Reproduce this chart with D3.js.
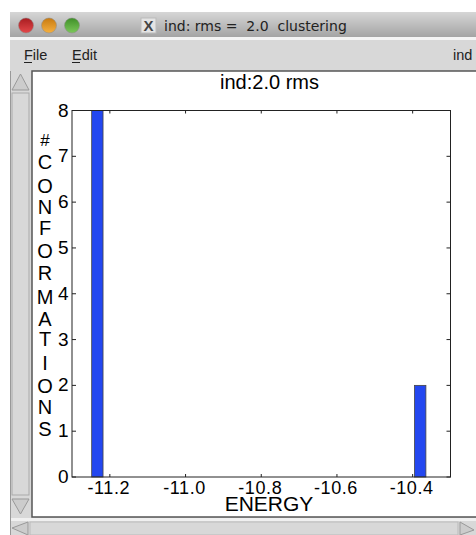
<!DOCTYPE html>
<html>
<head>
<meta charset="utf-8">
<title>ind: rms = 2.0 clustering</title>
<style>
  html, body { margin: 0; padding: 0; background: #fff; overflow: hidden; }
  svg { display: block; }
  text { font-family: "Liberation Sans", sans-serif; fill: #000; }
</style>
</head>
<body>
<script src="https://cdn.jsdelivr.net/npm/d3@7"></script>
<script>
const binCenters = [-11.233, -10.38];
const binCounts = [8, 2];
const binWidth = 0.03;
const xTicks = [-11.2, -11.0, -10.8, -10.6, -10.4];
const yTicks = [0, 1, 2, 3, 4, 5, 6, 7, 8];
const yLabel = ["#", "C", "O", "N", "F", "O", "R", "M", "A", "T", "I", "O", "N", "S"];
const yLabelPos = [146, 169, 193, 214, 235, 258, 280, 304, 326, 346, 370, 393, 414, 436];
const trafficLights = [["#e4484a", "#a81c20", 26], ["#f5b040", "#c87a10", 49], ["#7cc85a", "#3f8f28", 72]];

const width = 476, height = 535;
const svg = d3.select("body").append("svg").attr("width", width).attr("height", height);

const defs = svg.append("defs");
const grad = defs.append("linearGradient").attr("id", "titlebar").attr("x2", 0).attr("y2", 1);
grad.append("stop").attr("offset", 0).attr("stop-color", "#d6d6d6");
grad.append("stop").attr("offset", 1).attr("stop-color", "#a4a4a4");
trafficLights.forEach((d, i) => {
  const g = defs.append("linearGradient").attr("id", "light" + i).attr("x2", 0).attr("y2", 1);
  g.append("stop").attr("offset", 0).attr("stop-color", d[1]);
  g.append("stop").attr("offset", 1).attr("stop-color", d[0]);
});

// window chrome
svg.append("rect").attr("x", 10).attr("y", 12).attr("width", 466).attr("height", 25).attr("fill", "url(#titlebar)");
svg.append("rect").attr("x", 10).attr("y", 37).attr("width", 466).attr("height", 3).attr("fill", "#f4f4f4");
svg.append("rect").attr("x", 10).attr("y", 40).attr("width", 466).attr("height", 495).attr("fill", "#d8d8d8");

svg.selectAll("circle.light").data(trafficLights).enter().append("circle")
  .attr("class", "light")
  .attr("cx", d => d[2]).attr("cy", 25.5).attr("r", 7.5)
  .attr("fill", (d, i) => "url(#light" + i + ")").attr("stroke", "#8a8a8a").attr("stroke-width", 0.5);

svg.append("rect").attr("x", 141).attr("y", 18).attr("width", 15).attr("height", 15).attr("fill", "#e4e4e4").attr("stroke", "#bbb");
svg.append("text").attr("x", 148.5).attr("y", 31).attr("text-anchor", "middle")
  .style("font-size", "15px").style("font-weight", "bold").style("fill", "#444").text("X");
svg.append("text").attr("x", 164).attr("y", 31).style("font-family", "'DejaVu Sans', sans-serif")
  .style("font-size", "14px").style("fill", "#222").attr("xml:space", "preserve").text("ind: rms =  2.0  clustering");

svg.append("text").attr("x", 24).attr("y", 60).style("font-size", "14.5px").style("fill", "#222").text("File");
svg.append("text").attr("x", 72).attr("y", 60).style("font-size", "14.5px").style("fill", "#222").text("Edit");
svg.append("rect").attr("x", 24).attr("y", 62).attr("width", 8).attr("height", 1).attr("fill", "#222");
svg.append("rect").attr("x", 72).attr("y", 62).attr("width", 8).attr("height", 1).attr("fill", "#222");
svg.append("text").attr("x", 453).attr("y", 60).style("font-size", "14.5px").style("fill", "#222").text("ind");

// canvas and scrollbars
svg.append("rect").attr("x", 32).attr("y", 71).attr("width", 446).attr("height", 446)
  .attr("fill", "#fff").attr("stroke", "#555").attr("stroke-width", 1.5);
svg.append("rect").attr("x", 10).attr("y", 71).attr("width", 21).attr("height", 450).attr("fill", "#d8d8d8");
svg.append("rect").attr("x", 10).attr("y", 518).attr("width", 466).attr("height", 3).attr("fill", "#f0f0f0");
svg.append("line").attr("x1", 10.5).attr("x2", 10.5).attr("y1", 71).attr("y2", 535).attr("stroke", "#999");
svg.append("rect").attr("x", 12).attr("y", 93).attr("width", 17).attr("height", 402).attr("fill", "#d8d8d8").attr("stroke", "#aaa");
svg.append("path").attr("d", "M12 90 L20.5 74 L29 90 Z").attr("fill", "#ccc").attr("stroke", "#999");
svg.append("path").attr("d", "M12 499 L20.5 514 L29 499 Z").attr("fill", "#ccc").attr("stroke", "#999");
svg.append("rect").attr("x", 30).attr("y", 522).attr("width", 428).attr("height", 13).attr("fill", "#d8d8d8").attr("stroke", "#bbb");
svg.append("path").attr("d", "M28 522 L12 528 L28 535 Z").attr("fill", "#ccc").attr("stroke", "#999");
svg.append("path").attr("d", "M460 522 L474 530 L460 535 Z").attr("fill", "#ccc").attr("stroke", "#999");

// plot
const x = d3.scaleLinear().domain([-11.3, -10.3]).range([72, 450.5]);
const y = d3.scaleLinear().domain([0, 8]).range([477, 110.5]);
const bars = binCenters.map((c, i) => ({ c, n: binCounts[i] }));

svg.selectAll("rect.bar").data(bars).enter().append("rect")
  .attr("class", "bar")
  .attr("x", d => x(d.c - binWidth / 2))
  .attr("width", d => x(d.c + binWidth / 2) - x(d.c - binWidth / 2))
  .attr("y", d => y(d.n))
  .attr("height", d => y(0) - y(d.n))
  .attr("fill", "#2347f0").attr("stroke", "#444").attr("stroke-width", 0.8);

svg.append("rect").attr("x", x.range()[0]).attr("y", y.range()[1])
  .attr("width", x.range()[1] - x.range()[0]).attr("height", y.range()[0] - y.range()[1])
  .attr("fill", "none").attr("stroke", "#222").attr("stroke-width", 1);

const xTickLen = 3, yTickLen = 4;
svg.selectAll("line.xb").data(xTicks).enter().append("line").attr("class", "xb")
  .attr("x1", d => x(d)).attr("x2", d => x(d)).attr("y1", y(0)).attr("y2", y(0) - xTickLen).attr("stroke", "#222");
svg.selectAll("line.xt").data(xTicks).enter().append("line").attr("class", "xt")
  .attr("x1", d => x(d)).attr("x2", d => x(d)).attr("y1", y(8)).attr("y2", y(8) + xTickLen).attr("stroke", "#222");
svg.selectAll("line.yl").data(yTicks).enter().append("line").attr("class", "yl")
  .attr("x1", x(-11.3)).attr("x2", x(-11.3) + yTickLen).attr("y1", d => y(d)).attr("y2", d => y(d)).attr("stroke", "#222");
svg.selectAll("line.yr").data(yTicks).enter().append("line").attr("class", "yr")
  .attr("x1", x(-10.3)).attr("x2", x(-10.3) - yTickLen).attr("y1", d => y(d)).attr("y2", d => y(d)).attr("stroke", "#222");

svg.selectAll("text.xl").data(xTicks).enter().append("text").attr("class", "xl")
  .attr("x", d => x(d) - 1).attr("y", 494).attr("text-anchor", "middle")
  .style("font-size", "18px").style("letter-spacing", "0.6px").text(d => d3.format(".1f")(d).replace("\u2212", "-"));
svg.selectAll("text.yt").data(yTicks).enter().append("text").attr("class", "yt")
  .attr("x", 68.5).attr("y", d => y(d) + 6).attr("text-anchor", "end")
  .style("font-size", "19px").text(d => d);

svg.append("text").attr("x", 269.5).attr("y", 89).attr("text-anchor", "middle").style("font-size", "20px").text("ind:2.0 rms");
svg.append("text").attr("x", 269).attr("y", 511).attr("text-anchor", "middle").style("font-size", "21px").text("ENERGY");

svg.selectAll("text.yv").data(yLabel).enter().append("text").attr("class", "yv")
  .attr("x", 45).attr("y", (d, i) => yLabelPos[i]).attr("text-anchor", "middle")
  .style("font-size", d => d === "#" ? "17px" : "20px").text(d => d);
</script>
</body>
</html>
